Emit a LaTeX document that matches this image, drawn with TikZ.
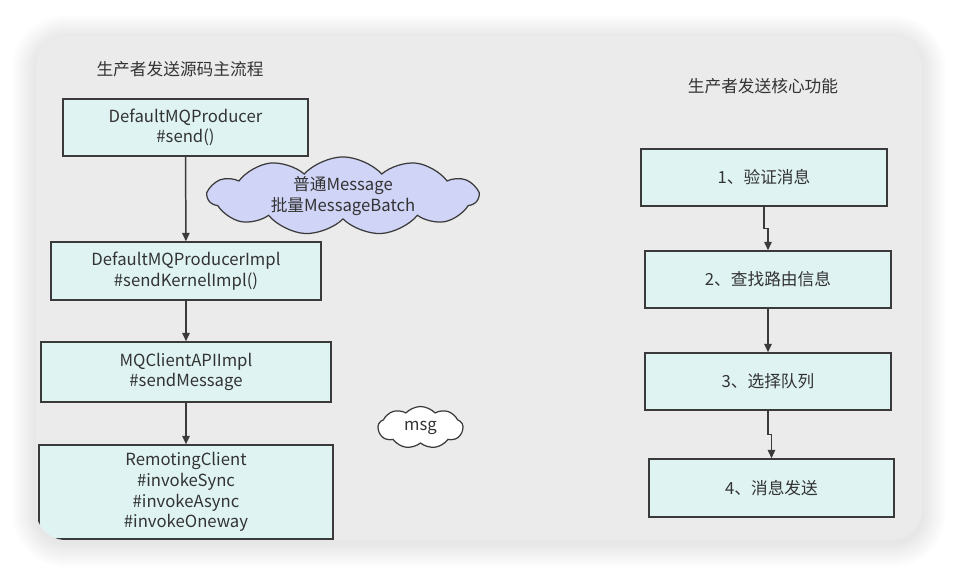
\documentclass[tikz,border=0pt]{standalone}
\usepackage{fontspec}
\setmainfont{Noto Sans CJK SC}
\usepackage{tikz}
\usetikzlibrary{shapes.symbols,arrows.meta,positioning}
\definecolor{panelgray}{HTML}{EBEBEB}
\definecolor{boxfill}{HTML}{DFF3F3}
\definecolor{boxline}{HTML}{3A3A3A}
\definecolor{inkgray}{HTML}{333333}
\definecolor{cloudfill}{HTML}{D0D4F6}
\tikzset{
  flowbox/.style={draw=boxline,line width=0.85pt,fill=boxfill,align=center,text=inkgray,inner sep=2pt,font=\fontsize{9.5}{11.8}\selectfont},
  cloudnote/.style={cloud,draw=boxline,line width=0.7pt,cloud puffs=11,cloud puff arc=95,cloud ignores aspect,align=center,text=inkgray,inner sep=0pt,font=\fontsize{9.5}{11.8}\selectfont},
  flowarr/.style={-{Triangle[length=1.7mm,width=1.5mm]},draw=boxline,line width=0.85pt},
  titletext/.style={text=inkgray,font=\fontsize{9.5}{11.8}\selectfont}
}
\begin{document}
\begin{tikzpicture}[x=0.02cm,y=-0.02cm]
  \useasboundingbox (0,0) rectangle (958,576);
  \fill[white] (0,0) rectangle (958,576);
  % soft shadow round the panel
  \foreach \s in {2,4,...,24}
    \fill[black,opacity=0.009,rounded corners=0.6cm+\s*0.02cm]
      (36-\s,36-\s+3) rectangle (922+\s,540+\s+3);
  \fill[panelgray,rounded corners=0.6cm] (36,36) rectangle (922,540);
  \begin{scope}
    \clip[rounded corners=0.6cm] (36,36) rectangle (922,540);
    % left: source flow
    \node[titletext] (lefttitle) at (180,69) {生产者发送源码主流程};
    \node[flowbox,minimum width=4.9cm,minimum height=1.14cm] (producer) at (185.5,127.5) {DefaultMQProducer\\\#send()};
    \node[flowbox,minimum width=5.4cm,minimum height=1.16cm] (impl) at (186,271) {DefaultMQProducerImpl\\\#sendKernelImpl()};
    \node[flowbox,minimum width=5.8cm,minimum height=1.2cm] (api) at (186,372) {MQClientAPIImpl\\\#sendMessage};
    \node[flowbox,minimum width=5.88cm,minimum height=1.88cm] (remoting) at (186,492) {RemotingClient\\\#invokeSync\\\#invokeAsync\\\#invokeOneway};
    \node[cloudnote,fill=cloudfill,minimum width=5.4cm,minimum height=1.2cm] (msgkind) at (343,196) {普通Message\\批量MessageBatch};
    \node[cloudnote,fill=white,cloud puffs=9,minimum width=1.7cm,minimum height=0.84cm] (msgcloud) at (420.5,427.5) {msg};
    \draw[flowarr] (producer) -- (impl);
    \draw[flowarr] (impl) -- (api);
    \draw[flowarr] (api) -- (remoting);
    % right: core functions
    \node[titletext] (righttitle) at (763,86) {生产者发送核心功能};
    \node[flowbox,minimum width=4.92cm,minimum height=1.14cm] (verify) at (764,177.5) {1、验证消息};
    \node[flowbox,minimum width=4.92cm,minimum height=1.14cm] (route) at (768,279.5) {2、查找路由信息};
    \node[flowbox,minimum width=4.92cm,minimum height=1.14cm] (queue) at (768,381.5) {3、选择队列};
    \node[flowbox,minimum width=4.9cm,minimum height=1.16cm] (dispatch) at (771.5,488) {4、消息发送};
    \draw[flowarr] (verify.south) -- ++(0,22) -| (route.north);
    \draw[flowarr] (route) -- (queue);
    \draw[flowarr] (queue.south) -- ++(0,24) -| (dispatch.north);
  \end{scope}
\end{tikzpicture}
\end{document}
